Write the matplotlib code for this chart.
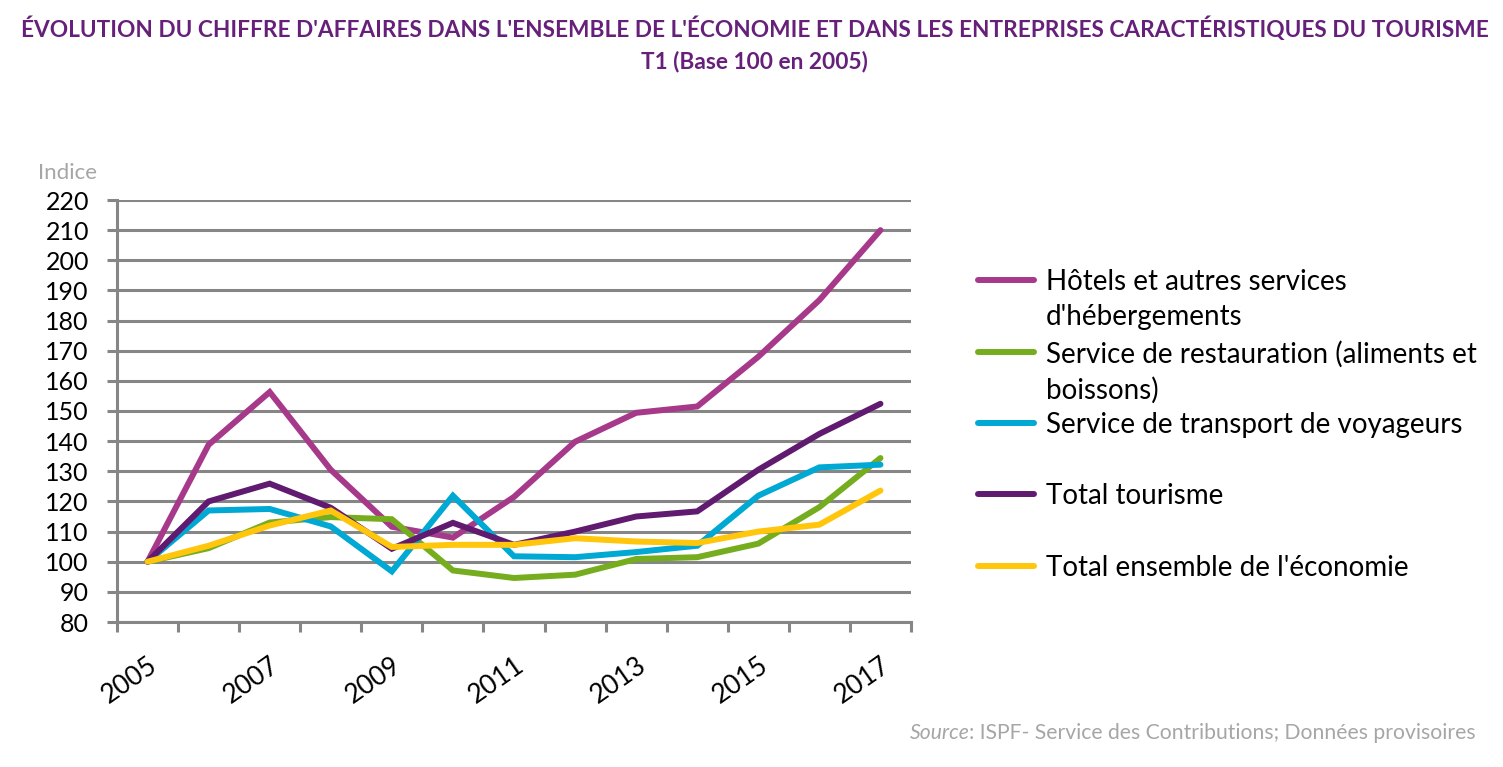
import matplotlib
matplotlib.use("Agg")
import matplotlib.pyplot as plt
from matplotlib.lines import Line2D

# --- data ---
years = [2005, 2006, 2007, 2008, 2009, 2010, 2011, 2012, 2013, 2014, 2015, 2016, 2017]
hotels = [100, 138.8, 156.3, 130.5, 111.6, 108.0, 121.5, 139.8, 149.4, 151.5, 168.0, 186.8, 210.0]
restauration = [100, 104.5, 113.0, 114.8, 114.1, 97.1, 94.6, 95.7, 100.9, 101.5, 106.0, 118.1, 134.4]
transport = [100, 117.0, 117.5, 111.7, 96.8, 121.9, 101.8, 101.5, 103.2, 105.3, 121.9, 131.3, 132.2]
total_tourisme = [100, 120.0, 125.9, 117.9, 104.3, 112.9, 105.6, 110.0, 115.0, 116.7, 130.5, 142.4, 152.4]
total_economie = [100, 105.3, 112.0, 117.0, 104.9, 105.6, 105.6, 107.8, 106.7, 106.2, 110.0, 112.3, 123.6]

labels = [
    "Hôtels et autres services\nd'hébergements",
    "Service de restauration (aliments et\nboissons)",
    "Service de transport de voyageurs",
    "Total tourisme",
    "Total ensemble de l'économie",
]
colors = ["#A7398A", "#76AD1F", "#00A8D4", "#601A70", "#FFC60B"]
series = [hotels, restauration, transport, total_tourisme, total_economie]

W, H = 1503, 767
fig = plt.figure(figsize=(W / 100, H / 100), dpi=100)
plt.rcParams['font.family'] = ['Lato', 'DejaVu Sans']

ax = fig.add_axes([117 / W, 1 - 622 / H, 794 / W, 422 / H])

x = list(range(len(years)))
for vals, col in zip(series, colors):
    ax.plot(x, vals, color=col, lw=4.3, solid_capstyle='round', solid_joinstyle='miter', zorder=3)

grid_col = "#868686"
ax.set_ylim(80, 220)
ax.set_xlim(-0.5, len(years) - 0.5)
ax.set_yticks(range(80, 221, 10))
ax.yaxis.grid(True, color=grid_col, lw=2.2, zorder=1)
for s in ["top", "right"]:
    ax.spines[s].set_visible(False)
for s in ["left", "bottom"]:
    ax.spines[s].set_color(grid_col)
    ax.spines[s].set_linewidth(2.2)
ax.tick_params(axis='y', length=7.2, width=2.2, color=grid_col, labelsize=18, pad=13)

# x: labels on every other year at the category centres, ticks at boundaries
ax.set_xticks(x[::2])
ax.set_xticklabels([str(y) for y in years[::2]], rotation=35, ha='right',
                   va='top', rotation_mode='anchor', fontsize=19)
ax.tick_params(axis='x', which='major', length=0, pad=22)
ax.set_xticks([i - 0.5 for i in range(len(years) + 1)], minor=True)
ax.tick_params(axis='x', which='minor', length=7.2, width=2.2, color=grid_col)

fig.text(38 / W, 1 - 173 / H, "Indice", fontsize=16, color="#A6A6A6", va='center', ha='left')

# title
title_col = "#66207A"
fig.text(0.5 * (22 + 1487) / W, 1 - 29 / H,
         "ÉVOLUTION DU CHIFFRE D'AFFAIRES DANS L'ENSEMBLE DE L'ÉCONOMIE ET DANS LES ENTREPRISES CARACTÉRISTIQUES DU TOURISME",
         fontsize=16.3, fontweight='bold', color=title_col, ha='center', va='center')
fig.text(754 / W, 1 - 62 / H, "T1 (Base 100 en 2005)",
         fontsize=16.3, fontweight='bold', color=title_col, ha='center', va='center')

# legend (Excel-like, drawn manually)
ys = [280, 352, 423, 494, 566]
for lab, col, yy in zip(labels, colors, ys):
    fig.add_artist(Line2D([978 / W, 1034 / W], [1 - yy / H, 1 - yy / H], color=col, lw=4.3,
                          solid_capstyle='round'))
    fig.text(1046 / W, 1 - (yy - 11) / H, lab, fontsize=20, ha='left', va='top',
             linespacing=1.42, color="black")

# source
src = fig.text(1476 / W, 1 - 733 / H, ": ISPF- Service des Contributions; Données provisoires",
               fontsize=15.2, color="#A6A6A6", ha='right', va='center')
fig.canvas.draw()
bb = src.get_window_extent()
fig.text(bb.x0 / W, 1 - 733 / H, "Source", fontsize=15.2, color="#A6A6A6",
         style='italic', ha='right', va='center')

fig.savefig("out.png", dpi=100)
